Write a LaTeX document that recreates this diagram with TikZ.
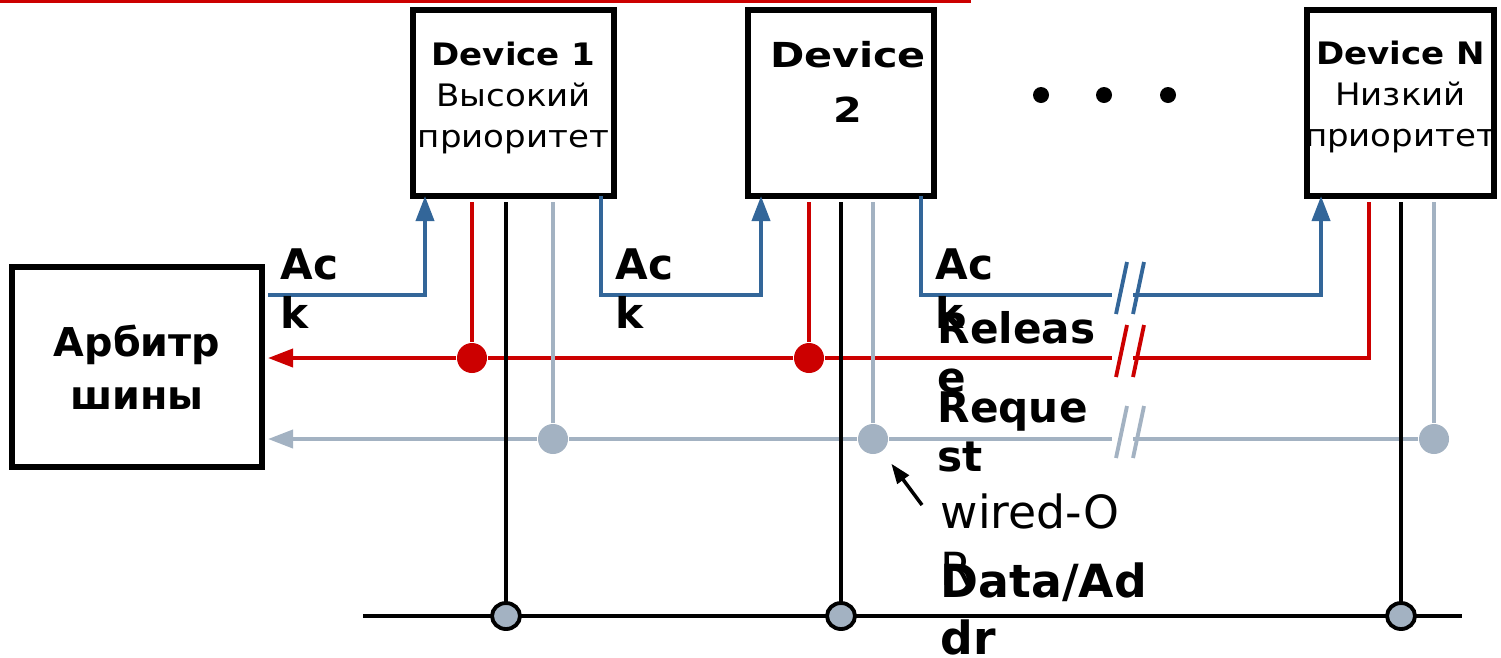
\documentclass[tikz,border=0pt]{standalone}
\usepackage{fontspec}
\setmainfont{DejaVu Sans}
\newfontfamily\devfont[FakeStretch=1.1]{DejaVu Sans}
\newfontfamily\devwidefont[FakeStretch=1.2]{DejaVu Sans}
\usetikzlibrary{arrows.meta,positioning,shapes.geometric}
\definecolor{sigRed}{RGB}{204,0,0}
\definecolor{sigBlue}{RGB}{51,102,153}
\definecolor{sigGrey}{RGB}{163,178,194}

\begin{document}
\begin{tikzpicture}[x=0.1mm, y=-0.1mm, >={Triangle[width=1.8mm,length=2.5mm]},
  devbox/.style={draw, line width=1.5pt, outer sep=0pt, inner sep=0pt,
     minimum width=#1, minimum height=18.6mm},
  devtext/.style={anchor=north, inner sep=0pt, align=center,
     font=\devfont\fontsize{8.8}{11.7}\selectfont},
  sig/.style={line width=1.1pt},
  ack/.style={sig, sigBlue},
  rel/.style={sig, sigRed},
  req/.style={sig, sigGrey},
  dat/.style={line width=1.2pt, black},
  pin/.style={shorten <=0.6mm},
  joint/.style={circle, fill=#1, minimum size=3mm, inner sep=0pt},
  tap/.style={ellipse, draw, line width=1.1pt, fill=sigGrey,
     minimum width=2.8mm, minimum height=2.6mm, inner sep=0pt},
  sigtext/.style={anchor=north west, inner sep=0pt, align=left,
     font=\fontsize{12}{14}\selectfont\bfseries}]
  \useasboundingbox (0,0) rectangle (1501,657);

  % top rule
  \draw[sigRed, line width=0.85pt] (0,1.5) -- (971,1.5);

  % devices and arbiter
  \node[devbox=20.1mm] (dev1) at (513.5,103) {};
  \node[devbox=18.6mm] (dev2) at (841,103) {};
  \node[devbox=18.7mm] (devN) at (1400.5,103) {};
  \node[devbox=25mm, minimum height=20mm, align=center,
     font=\fontsize{11.3}{15.1}\selectfont\bfseries] (arb) at (137,367) {Арбитр\\шины};

  \node[devtext, below=3.15mm of dev1.north] (dev1txt) {\textbf{Device 1}\\Высокий\\приоритет};
  \node[devtext, below=3.1mm of dev2.north, xshift=0.7mm,
     font=\devwidefont\fontsize{9.8}{15.4}\selectfont\bfseries] (dev2txt) {Device\\2};
  \node[devtext, below=3mm of devN.north] (devNtxt) {\textbf{Device N}\\Низкий\\приоритет};

  \foreach \x in {1041,1104,1168}
    \fill (\x,95) circle[radius=0.8mm];

  % junction points
  \node[joint=sigRed] (r1) at (472,358) {};
  \node[joint=sigRed] (r2) at (809,358) {};
  \node[joint=sigGrey] (q1) at (553,439) {};
  \node[joint=sigGrey] (q2) at (873,439) {};
  \node[joint=sigGrey] (q3) at (1434,439) {};

  \coordinate (ackA) at (268,295);
  \coordinate (ackGapL) at (1112,295);
  \coordinate (ackGapR) at (1133,295);
  \coordinate (relA) at (268,358);
  \coordinate (relGapL) at (1112,358);
  \coordinate (relGapR) at (1133,358);
  \coordinate (reqA) at (268,439);
  \coordinate (reqGapL) at (1112,439);
  \coordinate (reqGapR) at (1133,439);

  % Ack daisy chain
  \draw[ack,->] (ackA) -| (dev1.south -| 425,0);
  \draw[ack,->] (dev1.south -| 601,0) -- ++(0,99) -| (dev2.south -| 761,0);
  \draw[ack] (dev2.south -| 921,0) |- (ackGapL);
  \draw[ack,->] (ackGapR) -| (devN.south -| 1321,0);

  % Release
  \draw[rel,->] (relGapL) -- (r2) -- (r1) -- (relA);
  \draw[rel,pin] (devN.south -| 1369,0) |- (relGapR);

  % Request
  \draw[req,->] (reqGapL) -- (q2) -- (q1) -- (reqA);
  \draw[req] (q3) -- (reqGapR);
  \draw[req,pin] (dev1.south -| q1) -- (q1);
  \draw[req,pin] (dev2.south -| q2) -- (q2);
  \draw[req,pin] (devN.south -| q3) -- (q3);

  \draw[rel,pin] (dev1.south -| r1) -- (r1);
  \draw[rel,pin] (dev2.south -| r2) -- (r2);

  % breaks
  \foreach \y/\s in {295/ack,358/rel,439/req} {
    \draw[\s] (1127,\y-33) -- (1116,\y+19);
    \draw[\s] (1144,\y-33) -- (1133,\y+19);
  }

  % data/address bus
  \coordinate (busL) at (363,616);
  \coordinate (busR) at (1462,616);
  \draw[line width=1.4pt] (busL) -- (busR);
  \node[tap] (t1) at (506,616) {};
  \node[tap] (t2) at (841,616) {};
  \node[tap] (t3) at (1401,616) {};
  \draw[dat,pin] (dev1.south -| t1) -- (t1);
  \draw[dat,pin] (dev2.south -| t2) -- (t2);
  \draw[dat,pin] (devN.south -| t3) -- (t3);

  % labels
  \node[sigtext] (ack1) at (280,248) {Ac\\k};
  \node[sigtext] (ack2) at (615,248) {Ac\\k};
  \node[sigtext] (ack3) at (935,248) {Ac\\k};
  \node[sigtext] (rellbl) at (937,311) {Releas\\e};
  \node[sigtext] (reqlbl) at (937,391) {Reque\\st};
  \node[sigtext, font=\fontsize{13}{16.2}\selectfont] (worlbl) at (940,493) {wired-O\\R};
  \node[sigtext, font=\fontsize{13}{16.2}\selectfont\bfseries] (buslbl) at (940,562) {Data/Ad\\dr};

  \coordinate (worA) at (922,505);
  \draw[line width=1pt, -{Triangle[width=1.4mm,length=2mm]}, shorten >=1.5mm] (worA) -- (q2);
\end{tikzpicture}
\end{document}
